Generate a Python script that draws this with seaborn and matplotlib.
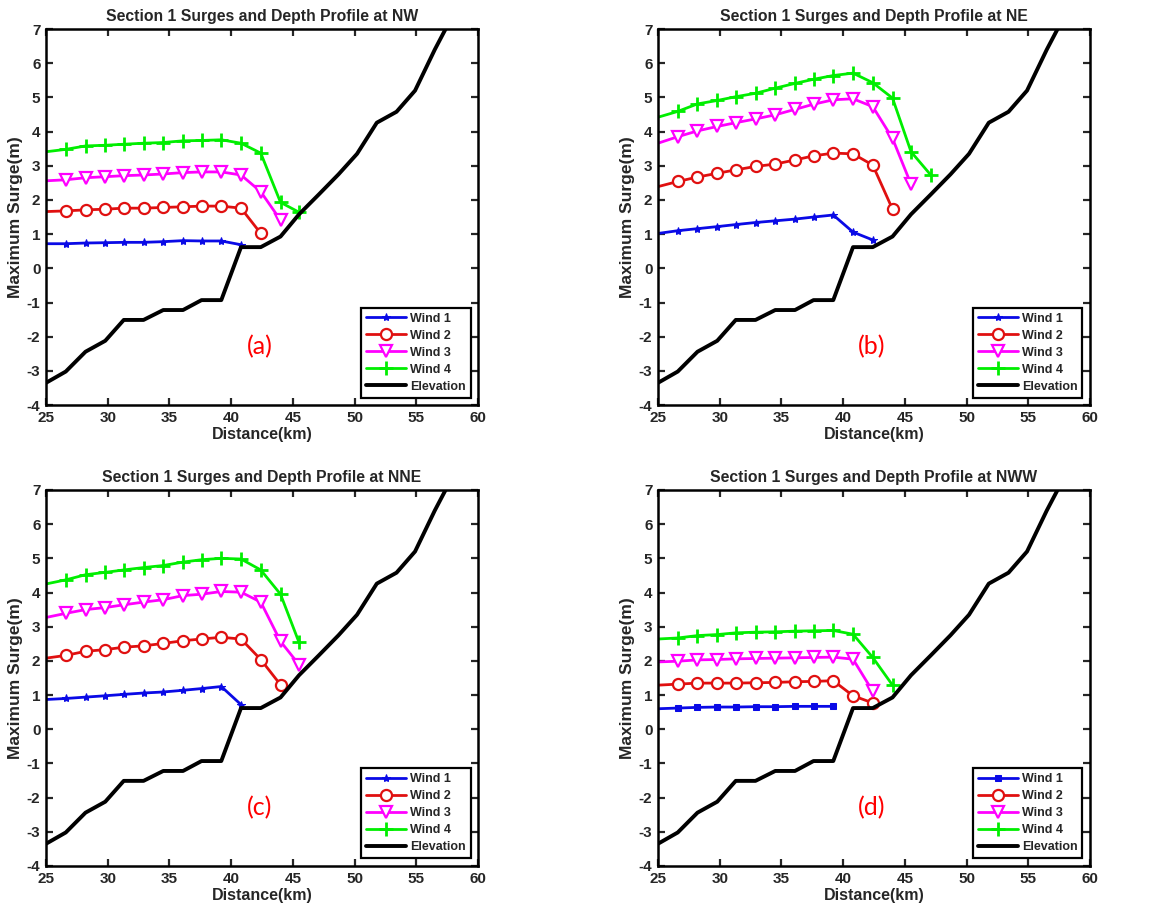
import matplotlib
matplotlib.use("Agg")
import matplotlib.pyplot as plt
import seaborn as sns

# distance of the surge stations along the section (km)
dist_km = [25.0, 26.6, 28.2, 29.8, 31.3, 32.9, 34.5, 36.1, 37.6, 39.2, 40.8, 42.4, 44.0, 45.5, 47.1]

# depth / elevation profile (same for every panel)
elev_km = [25.0, 26.6, 28.2, 29.8, 31.3, 32.9, 34.5, 36.1, 37.6, 39.2, 40.8, 42.4,
           44.0, 45.5, 47.1, 48.7, 50.2, 51.8, 53.4, 54.9, 56.5, 58.1]
elev_m = [-3.35, -3.02, -2.44, -2.12, -1.51, -1.51, -1.22, -1.22, -0.93, -0.93, 0.62, 0.62,
          0.93, 1.58, 2.16, 2.75, 3.35, 4.26, 4.58, 5.2, 6.4, 7.5]

# maximum surge (m) per wind, panel (a) NW
nw_wind1 = [0.72, 0.72, 0.74, 0.75, 0.76, 0.76, 0.78, 0.81, 0.80, 0.80, 0.69]
nw_wind2 = [1.66, 1.68, 1.71, 1.73, 1.76, 1.76, 1.78, 1.80, 1.82, 1.82, 1.76, 1.02]
nw_wind3 = [2.56, 2.59, 2.65, 2.68, 2.71, 2.73, 2.76, 2.80, 2.82, 2.82, 2.73, 2.24, 1.41]
nw_wind4 = [3.41, 3.48, 3.58, 3.60, 3.63, 3.66, 3.68, 3.73, 3.74, 3.76, 3.66, 3.37, 1.93, 1.64]

# panel (b) NE
ne_wind1 = [1.02, 1.10, 1.16, 1.22, 1.28, 1.34, 1.39, 1.44, 1.50, 1.56, 1.06, 0.83]
ne_wind2 = [2.39, 2.54, 2.67, 2.78, 2.88, 2.98, 3.05, 3.17, 3.29, 3.37, 3.35, 3.02, 1.73]
ne_wind3 = [3.66, 3.85, 4.02, 4.15, 4.26, 4.37, 4.49, 4.65, 4.80, 4.93, 4.96, 4.73, 3.80, 2.46]
ne_wind4 = [4.42, 4.59, 4.81, 4.91, 5.02, 5.12, 5.27, 5.41, 5.53, 5.64, 5.71, 5.43, 4.98, 3.41, 2.73]

# panel (c) NNE
nne_wind1 = [0.87, 0.90, 0.94, 0.98, 1.02, 1.06, 1.09, 1.14, 1.19, 1.25, 0.72]
nne_wind2 = [2.08, 2.16, 2.28, 2.33, 2.40, 2.44, 2.51, 2.59, 2.64, 2.69, 2.64, 2.04, 1.30]
nne_wind3 = [3.27, 3.39, 3.50, 3.56, 3.64, 3.72, 3.79, 3.91, 3.95, 4.03, 4.01, 3.72, 2.57, 1.89]
nne_wind4 = [4.25, 4.37, 4.52, 4.59, 4.66, 4.73, 4.79, 4.89, 4.96, 5.00, 4.98, 4.66, 3.95, 2.54]

# panel (d) NWW
nww_wind1 = [0.60, 0.62, 0.64, 0.65, 0.65, 0.66, 0.66, 0.67, 0.67, 0.67]
nww_wind2 = [1.29, 1.32, 1.35, 1.35, 1.35, 1.36, 1.37, 1.39, 1.40, 1.42, 0.98, 0.77]
nww_wind3 = [1.97, 1.99, 2.03, 2.04, 2.06, 2.07, 2.08, 2.09, 2.10, 2.11, 2.05, 1.11]
nww_wind4 = [2.64, 2.67, 2.74, 2.77, 2.82, 2.84, 2.85, 2.87, 2.88, 2.89, 2.78, 2.10, 1.29]

directions = ["NW", "NE", "NNE", "NWW"]
panel_tags = ["(a)", "(b)", "(c)", "(d)"]
surges = [
    [nw_wind1, nw_wind2, nw_wind3, nw_wind4],
    [ne_wind1, ne_wind2, ne_wind3, ne_wind4],
    [nne_wind1, nne_wind2, nne_wind3, nne_wind4],
    [nww_wind1, nww_wind2, nww_wind3, nww_wind4],
]
wind_names = ["Wind 1", "Wind 2", "Wind 3", "Wind 4"]
wind_colors = ["#0a0ae6", "#e01010", "#ff00ff", "#00ee00"]

sns.set_style("ticks")
plt.rcParams["font.family"] = ["Liberation Sans", "DejaVu Sans"]
plt.rcParams["font.weight"] = "bold"
plt.rcParams["axes.unicode_minus"] = False

fig = plt.figure(figsize=(11.56, 9.16), dpi=100)
positions = [
    [0.0398, 0.5578, 0.3737, 0.4105],
    [0.5692, 0.5578, 0.3737, 0.4105],
    [0.0398, 0.0546, 0.3737, 0.4105],
    [0.5692, 0.0546, 0.3737, 0.4105],
]

for k in range(4):
    ax = fig.add_axes(positions[k])
    w1_marker = "s" if k == 3 else "*"
    styles = [
        dict(marker=w1_marker, markersize=4.5 if k == 3 else 6, mfc=wind_colors[0], mec=wind_colors[0]),
        dict(marker="o", markersize=8, mfc="white", mec=wind_colors[1], mew=1.6),
        dict(marker="v", markersize=8.5, mfc="white", mec=wind_colors[2], mew=1.6),
        dict(marker="+", markersize=10, mec=wind_colors[3], mew=2),
    ]
    for i in range(4):
        vals = surges[k][i]
        sns.lineplot(x=dist_km[:len(vals)], y=vals, ax=ax, color=wind_colors[i], lw=2,
                     label=wind_names[i], markevery=list(range(1, len(vals))),
                     sort=False, **styles[i])
    sns.lineplot(x=elev_km, y=elev_m, ax=ax, color="black", lw=2.8, label="Elevation", sort=False)

    ax.set_xlim(25, 60)
    ax.set_ylim(-4, 7)
    ax.set_xticks(range(25, 61, 5))
    ax.set_yticks(range(-4, 8))
    ax.tick_params(direction="in", top=True, right=True, length=5, width=1.6,
                   labelsize=11, pad=4)
    for lab in ax.get_xticklabels() + ax.get_yticklabels():
        lab.set_fontweight("bold")
    for sp in ax.spines.values():
        sp.set_visible(True)
        sp.set_linewidth(1.8)
        sp.set_color("black")
    ax.set_title(f"Section 1 Surges and Depth Profile at {directions[k]}",
                 fontsize=11.3, fontweight="bold", pad=6)
    ax.set_xlabel("Distance(km)", fontsize=11.5, fontweight="bold", labelpad=2)
    ax.set_ylabel("Maximum Surge(m)", fontsize=12.5, fontweight="bold", labelpad=3)
    ax.text(42.3, -2.3, panel_tags[k], color="red", fontsize=18, family="Lato",
            fontweight="normal", ha="center", va="center")
    leg = ax.legend(loc="lower right", fancybox=False, edgecolor="black",
                    prop={"weight": "bold", "size": 9}, handlelength=3.2,
                    borderaxespad=0.6, labelspacing=0.4, handletextpad=0.3,
                    borderpad=0.4, framealpha=1)
    leg.get_frame().set_linewidth(1.6)

fig.savefig("out.png", dpi=100)
